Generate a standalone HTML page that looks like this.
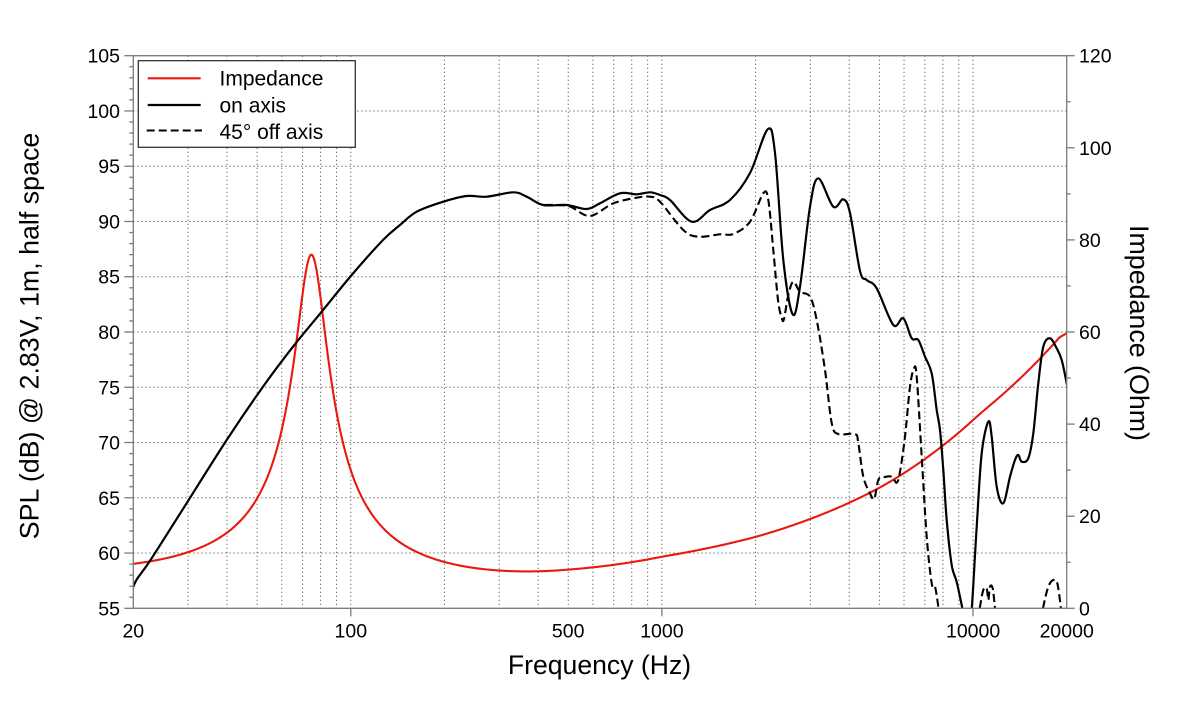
<!DOCTYPE html>
<html><head><meta charset="utf-8">
<style>
html,body{margin:0;padding:0;background:#fff;}
svg{display:block;}
text{font-family:"Liberation Sans", Arial, Helvetica, sans-serif; fill:#000;}
</style></head>
<body>
<svg id="c" width="1200" height="720" viewBox="0 0 1200 720" xmlns="http://www.w3.org/2000/svg">
<defs><clipPath id="pc"><rect x="133.3" y="55.7" width="933.4" height="552.6"/></clipPath></defs>
<rect x="0" y="0" width="1200" height="720" fill="#fff"/>
<g id="grid" stroke="#555" stroke-width="1" stroke-dasharray="1.2,2.8" fill="none"></g>
<g id="curves" clip-path="url(#pc)" fill="none" stroke-linejoin="round" stroke-linecap="butt">
  <path id="red" stroke="#e8190f" stroke-width="2.1"/>
  <path id="dash1" stroke="#000" stroke-width="2.1" stroke-dasharray="8,4"/>
  <path id="dash2" stroke="#000" stroke-width="2.1" stroke-dasharray="8,4"/>
  <path id="dash3" stroke="#000" stroke-width="2.1" stroke-dasharray="8,4"/>
  <path id="solid" stroke="#000" stroke-width="2.2"/>
</g>
<g id="axes" stroke="#7a7a7a" stroke-width="1.3" fill="none">
  <line x1="133.3" y1="55.7" x2="1066.7" y2="55.7"/>
  <line x1="133.3" y1="608.3" x2="1066.7" y2="608.3"/>
  <line x1="133.3" y1="55.7" x2="133.3" y2="608.3"/>
  <line x1="1066.7" y1="55.7" x2="1066.7" y2="608.3"/>
</g>
<g id="ticks" stroke="#7a7a7a" stroke-width="1.3" fill="none"></g>

<!-- Legend -->
<rect x="138.3" y="60.7" width="217" height="86.6" fill="#fff" stroke="#333" stroke-width="1.3"/>
<line x1="147.7" y1="78.3" x2="200.7" y2="78.3" stroke="#e8190f" stroke-width="2.1"/>
<line x1="147.7" y1="105" x2="200.7" y2="105" stroke="#000" stroke-width="2.2"/>
<line x1="146.7" y1="130.5" x2="202" y2="130.5" stroke="#000" stroke-width="2.1" stroke-dasharray="8,4"/>
<text x="219.5" y="85.7" font-size="21">Impedance</text>
<text x="219.5" y="112.7" font-size="21">on axis</text>
<text x="219.5" y="139" font-size="21">45° off axis</text>

<!-- Left tick labels -->
<g font-size="19.5" text-anchor="end">
  <text x="120" y="615.3">55</text>
  <text x="120" y="560">60</text>
  <text x="120" y="504.8">65</text>
  <text x="120" y="449.5">70</text>
  <text x="120" y="394.3">75</text>
  <text x="120" y="339">80</text>
  <text x="120" y="283.7">85</text>
  <text x="120" y="228.5">90</text>
  <text x="120" y="173.2">95</text>
  <text x="120" y="118">100</text>
  <text x="120" y="62.7">105</text>
</g>
<!-- Right tick labels -->
<g font-size="19.5" text-anchor="start">
  <text x="1079" y="615.3">0</text>
  <text x="1079" y="523.2">20</text>
  <text x="1079" y="431.1">40</text>
  <text x="1079" y="339">60</text>
  <text x="1079" y="246.9">80</text>
  <text x="1079" y="154.8">100</text>
  <text x="1079" y="62.7">120</text>
</g>
<!-- Bottom tick labels -->
<g font-size="19.5" text-anchor="middle">
  <text x="133.3" y="637.5">20</text>
  <text x="350.8" y="637.5">100</text>
  <text x="568.2" y="637.5">500</text>
  <text x="661.9" y="637.5">1000</text>
  <text x="973.1" y="637.5">10000</text>
  <text x="1066.7" y="637.5">20000</text>
</g>
<!-- Axis titles -->
<text x="599.5" y="674" font-size="26.6" text-anchor="middle">Frequency (Hz)</text>
<text transform="translate(38.5,336) rotate(-90)" font-size="26.8" text-anchor="middle">SPL (dB) @ 2.83V, 1m, half space</text>
<text transform="translate(1130,333) rotate(90)" font-size="26.8" text-anchor="middle">Impedance (Ohm)</text>
</svg>
<script>
(function(){
const NS="http://www.w3.org/2000/svg";
const L=133.3,R=1066.7,T=55.7,B=608.3,DEC=(R-L)/3;
const fx=f=>L+DEC*Math.log10(f/20);
const dy=d=>B-(d-55)*(B-T)/50;
const oy=o=>B-o*(B-T)/120;
function ln(g,x1,y1,x2,y2){const e=document.createElementNS(NS,"line");e.setAttribute("x1",x1);e.setAttribute("y1",y1);e.setAttribute("x2",x2);e.setAttribute("y2",y2);g.appendChild(e);}
// grid
const grid=document.getElementById("grid");
[10,100,1000].forEach(dec=>{for(let m=1;m<=9;m++){const f=dec*m;if(f<=20||f>=20000)continue;const x=fx(f);ln(grid,x,T,x,B);}});
ln(grid,fx(10000),T,fx(10000),B);
for(let d=60;d<=100;d+=5){const y=dy(d);ln(grid,L,y,R,y);}
// ticks
const tk=document.getElementById("ticks");
for(let d=55;d<=105;d++){const y=dy(d);const len=(d%5===0)?9:4;ln(tk,L-len,y,L,y);}
for(let o=0;o<=120;o+=10){const y=oy(o);const len=(o%20===0)?8:4;ln(tk,R,y,R+len,y);}
[100,1000,10000].forEach(f=>{const x=fx(f);ln(tk,x,B,x,B+8);});
// catmull-rom
function cr(p){let d="M"+p[0][0]+","+p[0][1];for(let i=0;i<p.length-1;i++){const p0=p[i-1]||p[i],p1=p[i],p2=p[i+1],p3=p[i+2]||p2;
const c1x=p1[0]+(p2[0]-p0[0])/6,c1y=p1[1]+(p2[1]-p0[1])/6,c2x=p2[0]-(p3[0]-p1[0])/6,c2y=p2[1]-(p3[1]-p1[1])/6;
d+="C"+c1x.toFixed(2)+","+c1y.toFixed(2)+" "+c2x.toFixed(2)+","+c2y.toFixed(2)+" "+p2[0]+","+p2[1];}return d;}
// impedance
const fs=74.8,Q=4,Rres=69,Re=7.8;
const XT=[[20,0.22],[350,3.85],[500,5.5],[1000,9.32],[2000,14.04],[5045,25.38],[10580,41.8],[20000,60.16]];
function XL(f){for(let i=0;i<XT.length-1;i++){const a=XT[i],b=XT[i+1];if(f<=b[0]||i===XT.length-2){const t=(Math.log(f)-Math.log(a[0]))/(Math.log(b[0])-Math.log(a[0]));return Math.exp(Math.log(a[1])+t*(Math.log(b[1])-Math.log(a[1])));}}}
let rp=[];
for(let i=0;i<=800;i++){const f=20*Math.pow(1000,i/800);const u=Q*(f/fs-fs/f);const den=1+u*u;const re=Re+Rres/den;const im=XL(f)-Rres*u/den;const z=Math.sqrt(re*re+im*im);rp.push([fx(f),oy(z)]);}
// smooth X table kinks via simple moving average on y
let rs=rp.map((p,i)=>{let s=0,n=0;for(let k=-6;k<=6;k++){const q=rp[i+k];if(q){s+=q[1];n++;}}return [p[0],(fx(20*Math.pow(1000,i/800))<fx(300))?p[1]:s/n];});
document.getElementById("red").setAttribute("d","M"+rs.map(p=>p[0].toFixed(2)+","+p[1].toFixed(2)).join("L"));
// on axis
const solid=[[133.3,587],[137,579],[150,560.8],[180,513.7],[226.7,440],[263,386.7],[293,346.7],[321.7,311.7],[351.7,275],[383,240],[400,225],[416.7,211.7],[443.3,201.7],[466.7,196],[486.7,196.7],[513.3,192.3],[526.7,196.7],[543.3,205],[566.7,205],[586.7,209],[600,203.3],[620,193.3],[636.7,194.3],[650,192.3],[660,195],[670,200],[691.7,221.7],[710,210],[730,200],[750,173],[767.7,129.3],[775,153],[783.3,260],[792.7,314.3],[800,286.7],[810,206.7],[818.3,178.3],[833.3,206.7],[843.3,199.3],[850,213],[860,271],[866.7,280],[876.7,288.3],[893.3,325],[903.3,318.3],[911.7,338.3],[918.3,340],[925,356.7],[931.7,373.3],[936.7,410],[940,430],[943.3,470],[946.7,520],[951.7,565],[956.7,582],[962.7,610],[966,628],[969,628],[971.7,610],[976.7,526.7],[981.7,453.3],[988.3,421.7],[991.7,436.7],[996.7,486.7],[1003.3,503.3],[1010,476.7],[1015,460],[1018.3,455],[1021.7,461.7],[1028.3,458.3],[1033.3,433.3],[1038.3,383.3],[1043.3,346.7],[1050,338.3],[1056.7,348.3],[1061.7,360],[1066.7,383.3],[1070,400]];
document.getElementById("solid").setAttribute("d",cr(solid));
const d1=[[545,205],[555,205],[570,206.5],[590,216],[613.3,203.3],[636.7,197.7],[650,196.7],[660,201.7],[683.3,230],[698.3,236.7],[720,234.3],[733.3,234],[750,221.7],[763.3,193.3],[768.3,200],[773.3,250],[778,300],[781.7,318],[784,319],[788.3,295],[793.3,281.7],[800,291.7],[810,296.7],[816.7,320],[825,370],[831.7,423],[838.3,434],[855,434],[858.3,443],[863.3,476.7],[870,493.3],[874.3,498.7],[878.3,480],[883.3,477.3],[891.7,476.7],[896.7,482.7],[900,471.7],[905,436.7],[910,386.7],[914,368.3],[916.7,376.7],[921.7,456.7],[926.7,536.7],[931.7,583.3],[935,586.7],[938.3,606.7],[941,630]];
const d2=[[978,620],[980,606.7],[983.3,590],[986.7,588.3],[988.3,600],[990,586.7],[992.7,588.3],[995,608.3],[996.5,620]];
const d3=[[1041,620],[1043.3,606.7],[1048.3,586.7],[1053.3,580],[1057.3,583.3],[1060.7,606.7],[1062,620]];
document.getElementById("dash1").setAttribute("d",cr(d1));
document.getElementById("dash2").setAttribute("d",cr(d2));
document.getElementById("dash3").setAttribute("d",cr(d3));
})();
</script>
</body></html>
